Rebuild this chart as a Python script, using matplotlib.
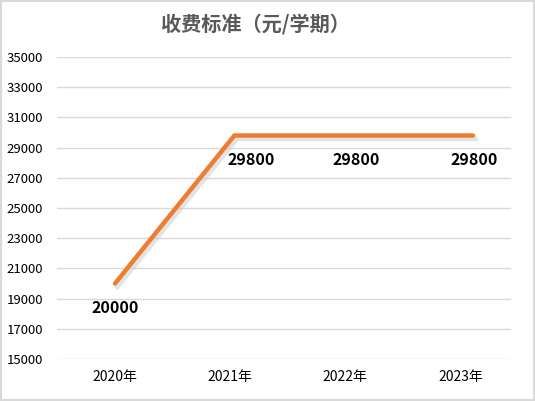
import matplotlib.pyplot as plt
from matplotlib.patches import Rectangle

plt.rcParams['font.family'] = ['Noto Sans CJK SC', 'DejaVu Sans']

years = ['2020年', '2021年', '2022年', '2023年']
fees = [20000, 29800, 29800, 29800]
yticks = list(range(15000, 35001, 2000))

fig = plt.figure(figsize=(5.35, 4.01), dpi=100)
left, right, bottom, top = 57, 518, 359, 57
ax = fig.add_axes([left / 535, 1 - bottom / 401, (right - left) / 535, (bottom - top) / 401])

x = list(range(len(years)))
ax.set_xlim(-0.5, 3.5)
ax.set_ylim(15000, 35000)
ax.set_xticks(x)
ax.set_xticklabels(years, fontsize=10)
ax.set_yticks(yticks)
ax.set_yticklabels([str(t) for t in yticks], fontsize=9.5, ha='left')
ax.tick_params(axis='y', length=0, pad=36.5)
ax.tick_params(axis='x', length=0, pad=8)
for t in yticks:
    ax.axhline(t, xmin=0, xmax=(510 - left) / (right - left), color='#d9d9d9', lw=1, zorder=0)
for s in ax.spines.values():
    s.set_visible(False)

# the line series sits on its own category scale (slightly wider spacing than the labels)
axl = ax.twiny()
axl.set_xlim(-0.486, 3.377)
axl.set_ylim(15000, 35000)
axl.axis('off')
axl.plot([i + 0.02 for i in x], [v - 220 for v in fees], color='#c8c8c8', lw=3.5, alpha=0.5,
         solid_joinstyle='miter', zorder=2)
axl.plot(x, fees, color='#ED7D31', lw=3.2, solid_joinstyle='miter', solid_capstyle='round', zorder=3)

label_dx = [0, 12, 2, 1]
for i, v, dx in zip(x, fees, label_dx):
    axl.annotate(f'{v}', (i, v), xytext=(dx, -12), textcoords='offset points',
                 ha='center', va='top', fontsize=11.5, fontweight='bold', color='black')

fig.text(255 / 535, 1 - 24 / 401, '收费标准（元/学期）', ha='center', va='center',
         fontsize=14.5, fontweight='heavy', color='#595959')

fig.patches.append(Rectangle((0.002, 0.002), 0.996, 0.996, transform=fig.transFigure,
                             fill=False, edgecolor='#d9d9d9', lw=1.5))

fig.savefig('out.png', dpi=100)
